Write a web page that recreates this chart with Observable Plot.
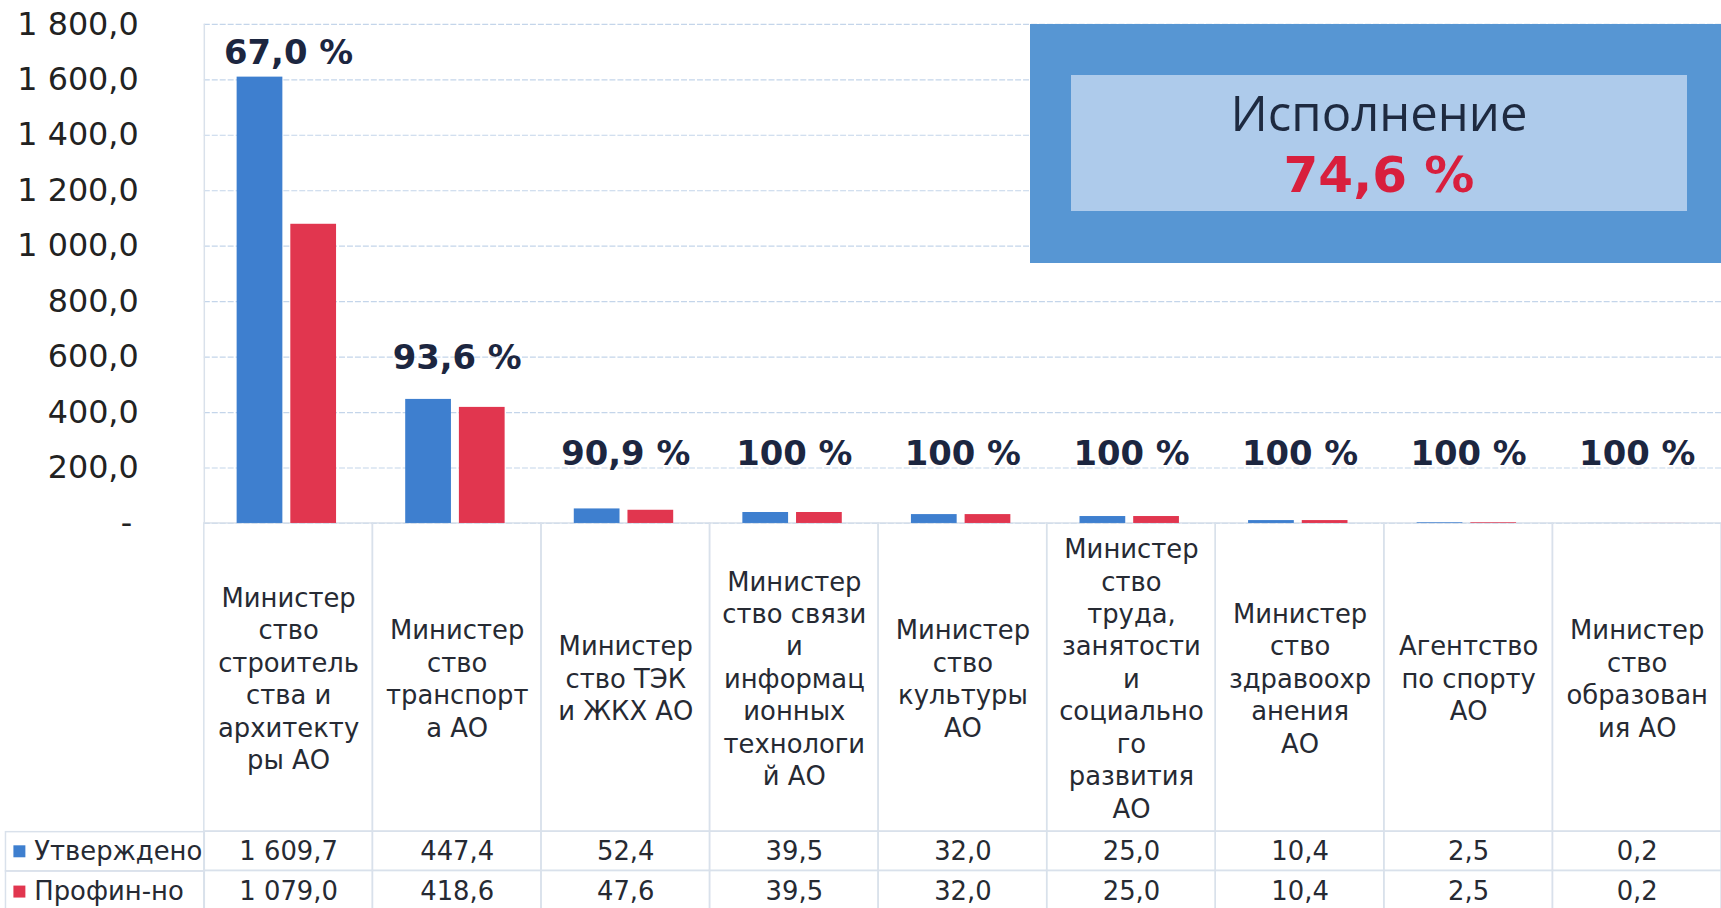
<!DOCTYPE html>
<html><head><meta charset="utf-8">
<script src="https://cdn.jsdelivr.net/npm/d3@7"></script>
<script src="https://cdn.jsdelivr.net/npm/@observablehq/plot@0.6"></script>
<style>
html,body{margin:0;padding:0;background:#fff;overflow:hidden;}
#wrap{position:relative;width:1721px;height:908px;overflow:hidden;}
#chart svg{display:block;}
#box{position:absolute;left:1030px;top:24px;width:700px;height:239px;background:#5796d3;}
#inner{position:absolute;left:41px;top:51px;width:616px;height:136px;background:#aecbeb;}
#t1{position:absolute;left:0;right:0;top:37px;transform:translateY(-50%);text-align:center;font-family:"Open Sans",sans-serif;font-size:49px;line-height:1;color:#1e2a40;}
#t2{position:absolute;left:0;right:0;top:100px;transform:translateY(-50%);text-align:center;font-family:"DejaVu Sans",sans-serif;font-weight:bold;font-size:50px;line-height:1;color:#d81f3d;}
</style></head>
<body>
<div id="wrap"><div id="chart"></div>
<div id="box"><div id="inner"><div id="t1">Исполнение</div><div id="t2"></div></div></div>
</div>
<script>
// ---- data ----
const categories = [
  "Министер\nство\nстроитель\nства и\nархитекту\nры АО",
  "Министер\nство\nтранспорт\nа АО",
  "Министер\nство ТЭК\nи ЖКХ АО",
  "Министер\nство связи\nи\nинформац\nионных\nтехнологи\nй АО",
  "Министер\nство\nкультуры\nАО",
  "Министер\nство\nтруда,\nзанятости\nи\nсоциально\nго\nразвития\nАО",
  "Министер\nство\nздравоохр\nанения\nАО",
  "Агентство\nпо спорту\nАО",
  "Министер\nство\nобразован\nия АО"
];
const approved = [1609.7, 447.4, 52.4, 39.5, 32.0, 25.0, 10.4, 2.5, 0.2];
const funded   = [1079.0, 418.6, 47.6, 39.5, 32.0, 25.0, 10.4, 2.5, 0.2];
const execLabels = ["67,0 %", "93,6 %", "90,9 %", "100 %", "100 %", "100 %", "100 %", "100 %", "100 %"];
const seriesNames = ["Утверждено", "Профин-но"];
const seriesColors = ["#3e7fcf", "#e1364f"];
const yTicks = [0, 200, 400, 600, 800, 1000, 1200, 1400, 1600, 1800];
const totalTitle = "Исполнение";

// ---- layout ----
const W = 1731, H = 908, mL = 205, mR = 0, mT = 24, mB = 382;
const plotH = H - mT - mB;
const colW = (W - mL - mR) / categories.length;
const barW = 46, barGap = 8, groupOff = 33;
const labelRowH = 310, dataRowH = 39.5;
const gridColor = "#c4d5ea", tableColor = "#d9e1eb", textColor = "#262a33";
// label placement (data units) above the approved bar
const labelPos = d => Math.max(d.approved * 0.947 + 186, 265);

const fmt = v => d3.format(",.1f")(v).replace(/,/g, "\u00a0").replace(".", ",");
const rows = categories.map((c, i) => ({cat: c, approved: approved[i], funded: funded[i], pct: execLabels[i]}));

const total = d3.sum(funded) / d3.sum(approved) * 100;
document.getElementById("t1").textContent = totalTitle;
document.getElementById("t2").textContent = d3.format(".1f")(total).replace(".", ",") + " %";

const chart = Plot.plot({
  width: W, height: H,
  marginLeft: mL, marginRight: mR, marginTop: mT, marginBottom: mB,
  style: {fontFamily: "DejaVu Sans, sans-serif", fontSize: "32px", color: "#222", background: "#fff", overflow: "visible"},
  x: {type: "band", domain: categories, padding: 0, round: false, axis: null},
  y: {domain: [0, 1800], ticks: yTicks, tickFormat: d => d === 0 ? "-\u2009" : fmt(d), tickSize: 0, tickPadding: 66, label: null},
  marks: [
    Plot.ruleY(yTicks, {y: d => d, stroke: gridColor, strokeWidth: 1.2, strokeDasharray: "6,2"}),
    // table cells
    Plot.cell(rows, {x: "cat", fill: "none", stroke: tableColor, strokeWidth: 1.5, insetTop: plotH, insetBottom: -labelRowH}),
    Plot.cell(rows, {x: "cat", fill: "none", stroke: tableColor, strokeWidth: 1.5, insetTop: plotH + labelRowH, insetBottom: -(labelRowH + dataRowH)}),
    Plot.cell(rows, {x: "cat", fill: "none", stroke: tableColor, strokeWidth: 1.5, insetTop: plotH + labelRowH + dataRowH, insetBottom: -(labelRowH + 2 * dataRowH + 5)}),
    Plot.frame({stroke: tableColor, strokeWidth: 1.5, insetLeft: -(mL - 5), insetRight: W - mL - mR, insetTop: plotH + labelRowH, insetBottom: -(labelRowH + dataRowH)}),
    Plot.frame({stroke: tableColor, strokeWidth: 1.5, insetLeft: -(mL - 5), insetRight: W - mL - mR, insetTop: plotH + labelRowH + dataRowH, insetBottom: -(labelRowH + 2 * dataRowH + 5)}),
    Plot.ruleX(categories.slice(0, 1), {x: d => d, dx: -colW / 2, stroke: tableColor, strokeWidth: 1.5}),
    // bars
    Plot.barY(rows, {x: "cat", y: "approved", fill: seriesColors[0], insetLeft: groupOff, insetRight: colW - groupOff - barW}),
    Plot.barY(rows, {x: "cat", y: "funded", fill: seriesColors[1], insetLeft: groupOff + barW + barGap, insetRight: colW - groupOff - 2 * barW - barGap}),
    // execution labels
    Plot.text(rows, {x: "cat", y: labelPos, text: "pct", dy: 4, fontSize: 34, fontWeight: "bold", fill: "#1c2640"}),
    // table text
    Plot.text(rows, {x: "cat", text: "cat", frameAnchor: "bottom", dy: labelRowH / 2, lineAnchor: "middle", lineHeight: 1.256, fontSize: 26, fill: textColor}),
    Plot.text(rows, {x: "cat", text: d => fmt(d.approved), frameAnchor: "bottom", dy: labelRowH + dataRowH / 2, lineAnchor: "middle", fontSize: 26, fill: textColor}),
    Plot.text(rows, {x: "cat", text: d => fmt(d.funded), frameAnchor: "bottom", dy: labelRowH + dataRowH * 1.5 + 1, lineAnchor: "middle", fontSize: 26, fill: textColor}),
    // legend in table
    Plot.dot(seriesNames.slice(0, 1), {frameAnchor: "bottom-left", dx: -(mL - 19), dy: labelRowH + dataRowH / 2, symbol: "square", r: 6.8, fill: seriesColors[0]}),
    Plot.dot(seriesNames.slice(1, 2), {frameAnchor: "bottom-left", dx: -(mL - 19), dy: labelRowH + dataRowH * 1.5 + 1, symbol: "square", r: 6.8, fill: seriesColors[1]}),
    Plot.text(seriesNames.slice(0, 1), {text: d => d, frameAnchor: "bottom-left", textAnchor: "start", dx: -(mL - 34), dy: labelRowH + dataRowH / 2, lineAnchor: "middle", fontSize: 26, fill: textColor}),
    Plot.text(seriesNames.slice(1, 2), {text: d => d, frameAnchor: "bottom-left", textAnchor: "start", dx: -(mL - 34), dy: labelRowH + dataRowH * 1.5 + 1, lineAnchor: "middle", fontSize: 26, fill: textColor})
  ]
});
document.getElementById("chart").appendChild(chart);
</script>
</body></html>
